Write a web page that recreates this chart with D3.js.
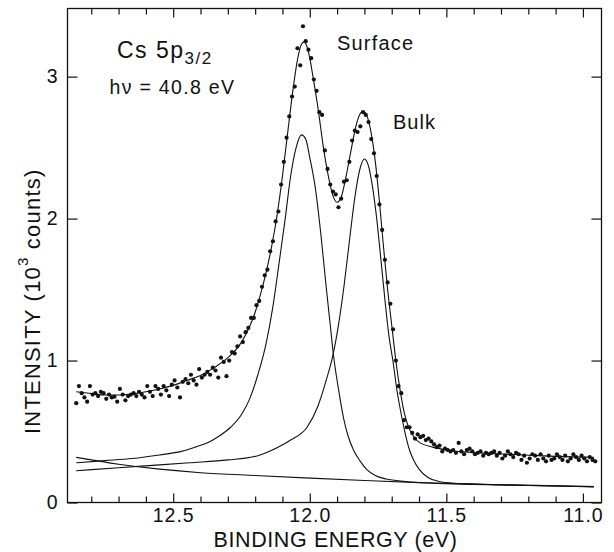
<!DOCTYPE html>
<html>
<head>
<meta charset="utf-8">
<script src="https://cdn.jsdelivr.net/npm/d3@7"></script>
<style>
  body { margin: 0; background: #fff; }
  svg { display: block; font-family: "Liberation Sans", Arial, Helvetica, sans-serif; }
</style>
</head>
<body>
<div id="chart"></div>
<script>
// DATA (binding energy in eV, intensity in 10^3 counts)
let tickMajor = [12.5, 12.0, 11.5, 11.0]
let tickMinor = [12.8, 12.7, 12.6, 12.4, 12.3, 12.2, 12.1, 11.9, 11.8, 11.7, 11.6, 11.4, 11.3, 11.2, 11.1]
let yTicks = [0, 1, 2, 3]

let measured = [
  [12.855,0.70],[12.845,0.82],[12.835,0.77],[12.825,0.74],[12.815,0.71],[12.805,0.82],[12.795,0.76],[12.785,0.77],[12.775,0.75],[12.765,0.78],
  [12.755,0.77],[12.745,0.73],[12.735,0.76],[12.725,0.74],[12.715,0.745],[12.705,0.71],[12.695,0.80],[12.685,0.76],[12.675,0.72],[12.665,0.75],
  [12.655,0.76],[12.645,0.77],[12.635,0.75],[12.625,0.78],[12.615,0.76],[12.605,0.74],[12.595,0.82],[12.585,0.78],[12.575,0.75],[12.565,0.82],
  [12.555,0.80],[12.545,0.76],[12.535,0.82],[12.525,0.79],[12.515,0.75],[12.505,0.83],[12.495,0.86],[12.485,0.81],[12.475,0.74],[12.465,0.85],
  [12.455,0.87],[12.445,0.84],[12.435,0.90],[12.425,0.86],[12.415,0.83],[12.405,0.94],[12.395,0.88],[12.385,0.90],[12.375,0.92],[12.365,0.90],
  [12.355,0.95],[12.345,0.93],[12.335,0.88],[12.325,1.02],[12.315,0.99],[12.305,0.89],[12.295,1.00],[12.285,1.06],[12.275,1.05],[12.265,1.10],
  [12.255,1.17],[12.245,1.13],[12.235,1.20],[12.225,1.23],[12.215,1.30],[12.205,1.30],[12.195,1.39],[12.185,1.42],[12.175,1.52],[12.165,1.60],
  [12.155,1.64],[12.145,1.77],[12.135,1.84],[12.125,1.98],[12.115,2.05],[12.105,2.24],[12.095,2.40],[12.085,2.57],[12.075,2.72],[12.065,2.86],
  [12.055,2.93],[12.045,3.20],[12.035,3.08],[12.025,3.355],[12.015,3.25],[12.005,3.19],[11.995,3.13],[11.985,2.98],[11.975,2.90],[11.965,2.75],
  [11.955,2.73],[11.945,2.48],[11.935,2.35],[11.925,2.24],[11.915,2.19],[11.905,2.17],[11.895,2.08],[11.885,2.14],[11.875,2.26],[11.865,2.27],
  [11.855,2.40],[11.845,2.55],[11.835,2.62],[11.825,2.61],[11.815,2.65],[11.805,2.75],[11.795,2.73],[11.785,2.68],[11.775,2.56],[11.765,2.46],
  [11.755,2.30],[11.745,2.10],[11.735,1.92],[11.725,1.71],[11.715,1.55],[11.705,1.40],[11.695,1.22],[11.685,1.00],[11.675,0.82],[11.665,0.77],
  [11.655,0.58],[11.645,0.53],[11.635,0.53],[11.625,0.49],[11.615,0.45],[11.605,0.48],[11.595,0.46],[11.585,0.47],[11.575,0.44],[11.565,0.45],
  [11.555,0.43],[11.545,0.41],[11.535,0.39],[11.525,0.40],[11.515,0.36],[11.505,0.38],[11.495,0.37],[11.485,0.36],[11.475,0.37],[11.465,0.35],
  [11.455,0.42],[11.445,0.36],[11.435,0.34],[11.425,0.37],[11.415,0.38],[11.405,0.36],[11.395,0.34],[11.385,0.35],[11.375,0.36],[11.365,0.33],
  [11.355,0.35],[11.345,0.34],[11.335,0.35],[11.325,0.36],[11.315,0.33],[11.305,0.35],[11.295,0.31],[11.285,0.33],[11.275,0.36],[11.265,0.34],
  [11.255,0.32],[11.245,0.35],[11.235,0.34],[11.225,0.30],[11.215,0.33],[11.205,0.28],[11.195,0.31],[11.185,0.34],[11.175,0.33],[11.165,0.30],
  [11.155,0.34],[11.145,0.31],[11.135,0.29],[11.125,0.33],[11.115,0.30],[11.105,0.31],[11.095,0.34],[11.085,0.32],[11.075,0.30],[11.065,0.33],
  [11.055,0.29],[11.045,0.31],[11.035,0.34],[11.025,0.32],[11.015,0.30],[11.005,0.33],[10.995,0.31],[10.985,0.29],[10.975,0.32],[10.965,0.30],
  [10.955,0.29]
]

let fitTotal = [
  [12.855,0.78],[12.80,0.768],[12.75,0.757],[12.70,0.757],[12.65,0.765],[12.60,0.78],[12.55,0.80],[12.50,0.825],
  [12.45,0.86],[12.40,0.895],[12.35,0.95],[12.30,1.02],[12.25,1.13],[12.20,1.34],[12.18,1.47],[12.16,1.62],
  [12.14,1.80],[12.12,2.02],[12.10,2.30],[12.08,2.62],[12.06,2.93],[12.045,3.12],[12.03,3.23],[12.02,3.245],
  [12.01,3.21],[12.00,3.13],[11.99,3.02],[11.97,2.78],[11.95,2.50],[11.93,2.28],[11.915,2.16],[11.90,2.115],
  [11.885,2.15],[11.87,2.27],[11.85,2.47],[11.83,2.66],[11.815,2.74],[11.805,2.755],[11.79,2.72],[11.775,2.60],
  [11.76,2.40],[11.745,2.12],[11.73,1.80],[11.715,1.50],[11.70,1.25],[11.685,1.00],[11.67,0.80],[11.655,0.64],
  [11.64,0.54],[11.62,0.465],[11.60,0.425],[11.55,0.39],[11.50,0.37],[11.40,0.352],[11.30,0.342],[11.20,0.333],
  [11.10,0.325],[10.96,0.318]
]

let surfacePeak = [
  [12.855,0.28],[12.75,0.295],[12.65,0.31],[12.55,0.335],[12.47,0.36],[12.42,0.39],[12.37,0.425],[12.33,0.47],
  [12.29,0.53],[12.25,0.62],[12.22,0.73],[12.19,0.90],[12.16,1.12],[12.135,1.38],[12.11,1.72],[12.09,2.00],
  [12.07,2.30],[12.05,2.50],[12.03,2.59],[12.015,2.56],[12.00,2.43],[11.98,2.22],[11.96,1.90],[11.94,1.52],
  [11.925,1.25],[11.914,1.05],[11.895,0.80],[11.877,0.60],[11.86,0.47],[11.84,0.37],[11.815,0.29],[11.79,0.23],
  [11.76,0.19],[11.72,0.165],[11.65,0.148],[11.55,0.136],[11.40,0.128],[11.20,0.12],[10.96,0.112]
]

let bulkPeak = [
  [12.855,0.224],[12.70,0.245],[12.55,0.265],[12.44,0.28],[12.30,0.30],[12.19,0.33],[12.12,0.385],[12.07,0.44],
  [12.01,0.53],[11.97,0.68],[11.94,0.86],[11.915,1.04],[11.895,1.25],[11.875,1.52],[11.855,1.84],[11.835,2.15],
  [11.815,2.36],[11.80,2.42],[11.785,2.37],[11.77,2.22],[11.755,2.00],[11.74,1.72],[11.725,1.43],[11.71,1.17],
  [11.695,0.99],[11.68,0.78],[11.665,0.62],[11.65,0.48],[11.635,0.37],[11.62,0.30],[11.60,0.235],[11.57,0.18],
  [11.53,0.15],[11.48,0.137],[11.40,0.13],[11.30,0.125],[11.10,0.118],[10.96,0.113]
]

let background = [
  [12.855,0.318],[12.70,0.27],[12.55,0.235],[12.40,0.21],[12.20,0.19],[12.00,0.172],[11.80,0.155],
  [11.60,0.14],[11.40,0.13],[11.20,0.12],[10.96,0.11]
]

// CHART SETUP
let width = 614, height = 552
let margin = {top: 8.5, right: 12.5, bottom: 49.5, left: 67.5}

let svg = d3.select('#chart')
  .append('svg')
  .attr('width', width)
  .attr('height', height)

let x = d3.scaleLinear()
  .domain([12.887, 10.932])
  .range([margin.left, width - margin.right])

let y = d3.scaleLinear()
  .domain([0, 3.48])
  .range([height - margin.bottom, margin.top])

let ink = '#111'

// frame
svg.append('rect')
  .attr('x', margin.left)
  .attr('y', margin.top)
  .attr('width', width - margin.left - margin.right)
  .attr('height', height - margin.top - margin.bottom)
  .attr('fill', 'none')
  .attr('stroke', ink)
  .attr('stroke-width', 1.3)

// AXES (ticks point inward)
function styleAxis (g) {
  g.select('.domain').remove()
  g.selectAll('line').attr('stroke', ink).attr('stroke-width', 1.2)
  g.selectAll('text')
    .attr('fill', ink)
    .style('font-size', '19.5px')
    .style('letter-spacing', '1px')
    .style('font-family', '"Liberation Sans", Arial, sans-serif')
}

let bottomY = height - margin.bottom

svg.append('g')
  .attr('transform', 'translate(0,' + bottomY + ')')
  .call(d3.axisBottom(x).tickValues(tickMajor).tickSize(-9).tickPadding(5.5).tickFormat(d3.format('.1f')))
  .call(styleAxis)

svg.append('g')
  .attr('transform', 'translate(0,' + bottomY + ')')
  .call(d3.axisBottom(x).tickValues(tickMinor).tickSize(-6).tickFormat(''))
  .call(styleAxis)

svg.append('g')
  .attr('transform', 'translate(0,' + margin.top + ')')
  .call(d3.axisTop(x).tickValues(tickMajor).tickSize(-9).tickFormat(''))
  .call(styleAxis)

svg.append('g')
  .attr('transform', 'translate(0,' + margin.top + ')')
  .call(d3.axisTop(x).tickValues(tickMinor).tickSize(-6).tickFormat(''))
  .call(styleAxis)

svg.append('g')
  .attr('transform', 'translate(' + margin.left + ',0)')
  .call(d3.axisLeft(y).tickValues(yTicks).tickSize(-10).tickPadding(9).tickFormat(d3.format('d')))
  .call(styleAxis)

svg.append('g')
  .attr('transform', 'translate(' + (width - margin.right) + ',0)')
  .call(d3.axisRight(y).tickValues(yTicks).tickSize(-10).tickFormat(''))
  .call(styleAxis)

// CURVES
let line = d3.line()
  .x(function (d) { return x(d[0]) })
  .y(function (d) { return y(d[1]) })
  .curve(d3.curveMonotoneX)

let curves = [background, bulkPeak, surfacePeak, fitTotal]

svg.selectAll('.fit-curve')
  .data(curves)
  .enter().append('path')
    .attr('class', 'fit-curve')
    .attr('d', line)
    .attr('fill', 'none')
    .attr('stroke', ink)
    .attr('stroke-width', 1.1)

// measured points
svg.selectAll('.point')
  .data(measured)
  .enter().append('circle')
    .attr('class', 'point')
    .attr('cx', function (d) { return x(d[0]) })
    .attr('cy', function (d) { return y(d[1]) })
    .attr('r', 2.1)
    .attr('fill', ink)

// AXIS TITLES
svg.append('text')
  .attr('x', (margin.left + width - margin.right) / 2 + 1)
  .attr('y', 546.5)
  .attr('text-anchor', 'middle')
  .attr('fill', ink)
  .style('font-size', '21.5px')
  .style('letter-spacing', '0.6px')
  .text('BINDING ENERGY (eV)')

let yTitle = svg.append('text')
  .attr('transform', 'translate(40,434) rotate(-90)')
  .attr('fill', ink)
  .style('font-size', '22px')
  .style('letter-spacing', '1.2px')

yTitle.append('tspan').text('INTENSITY (10')
yTitle.append('tspan').attr('dy', -12).style('font-size', '15px').text('3')
yTitle.append('tspan').attr('dy', 12).text(' counts)')

// ANNOTATIONS
let title = svg.append('text')
  .attr('x', 117).attr('y', 57.5)
  .attr('fill', ink)
  .style('font-size', '23px')
  .style('letter-spacing', '1.5px')

title.append('tspan').text('Cs 5p')
title.append('tspan')
  .attr('dy', 6)
  .style('font-size', '17px')
  .style('letter-spacing', '1.5px')
  .text('3/2')

svg.append('text')
  .attr('x', 109.5).attr('y', 93.5)
  .attr('fill', ink)
  .style('font-size', '19.5px')
  .attr('textLength', 124.5)
  .attr('lengthAdjust', 'spacing')
  .text('hν = 40.8 eV')

svg.append('text')
  .attr('x', 337).attr('y', 50)
  .attr('fill', ink)
  .style('font-size', '20px')
  .attr('textLength', 76)
  .attr('lengthAdjust', 'spacing')
  .text('Surface')

svg.append('text')
  .attr('x', 393).attr('y', 129)
  .attr('fill', ink)
  .style('font-size', '20px')
  .attr('textLength', 42)
  .attr('lengthAdjust', 'spacing')
  .text('Bulk')
</script>
</body>
</html>
